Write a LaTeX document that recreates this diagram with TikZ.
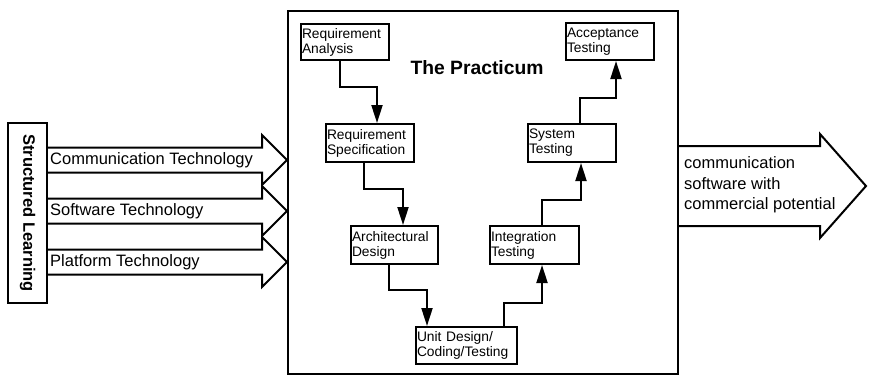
\documentclass[tikz,border=0pt]{standalone}
\usepackage{fontspec}
\setmainfont{Liberation Sans}
\usetikzlibrary{arrows.meta}

\def\bodyh{12.5}  % half height of an input arrow body
\def\headh{25}    % half height of an input arrow head
\newcommand{\stagefont}{\fontsize{13.8}{15}\selectfont}
\newcommand{\labelfont}{\fontsize{16.5}{20.5}\selectfont}

\begin{document}
\begin{tikzpicture}[x=1pt, y=-1pt,
    stage/.style={draw, line width=2pt, anchor=north west, inner xsep=1pt,
      inner ysep=0pt, align=left, font=\stagefont},
    flow/.style={line width=2pt, -{Triangle[length=18pt,width=11pt]}},
    fat/.style={draw, line width=2pt}]
  \useasboundingbox (0,0) rectangle (869,376);

  % Frame of the practicum
  \node[draw, line width=2pt, anchor=north west, inner sep=0pt,
    minimum width=390pt, minimum height=363pt] (frame) at (287,10) {};
  \node[font=\fontsize{19.3}{22}\selectfont\bfseries] (title) at (477,68) {The Practicum};

  % Stages of the V
  \node[stage, text width=86pt, minimum height=36pt] (ra) at (300,23) {Requirement\\Analysis};
  \node[stage, text width=86pt, minimum height=38pt] (rs) at (325,123) {Requirement\\Specification};
  \node[stage, text width=85pt, minimum height=38pt] (ad) at (350,225) {Architectural\\Design};
  \node[stage, text width=99pt, minimum height=37pt] (ud) at (415,326) {Unit Design/\\Coding/Testing};
  \node[stage, text width=87pt, minimum height=38pt] (it) at (489,225) {Integration\\Testing};
  \node[stage, text width=86pt, minimum height=38pt] (st) at (527,123) {System\\Testing};
  \node[stage, text width=86pt, minimum height=37pt] (at) at (565,22) {Acceptance\\Testing};

  % Going down
  \draw[flow] ([xshift=-5pt]ra.south) -- ++(0,26) -| ([xshift=7pt]rs.north);
  \draw[flow] ([xshift=-6pt]rs.south) -- ++(0,26) -| ([xshift=8.5pt]ad.north);
  \draw[flow] ([xshift=-5.5pt]ad.south) -- ++(0,25) -| ([xshift=-39.5pt]ud.north);
  % Going up
  \draw[flow] ([xshift=37.5pt]ud.north) -- ++(0,-23) -| ([xshift=7.5pt]it.south);
  \draw[flow] ([xshift=7.5pt]it.north) -- ++(0,-25) -| ([xshift=9pt]st.south);
  \draw[flow] ([xshift=8pt]st.north) -- ++(0,-25) -| ([xshift=6pt]at.south);

  % Inputs
  \node[draw, line width=2pt, rotate=-90, inner sep=0pt, minimum width=180pt,
    minimum height=39pt, font=\labelfont\bfseries] (sl) at (27.5,213) {Structured Learning};
  \foreach \yc/\name [count=\i] in {
      160/Communication Technology,
      211/Software Technology,
      262/Platform Technology
    } {
      \draw[fat] (47,\yc-\bodyh) -- (262,\yc-\bodyh) -- (262,\yc-\headh)
        -- (287,\yc) -- (262,\yc+\headh) -- (262,\yc+\bodyh) -- (47,\yc+\bodyh);
      \node[anchor=west, inner sep=0pt, font=\labelfont] (tech\i) at (50,\yc) {\name};
    };

  % Output
  \draw[fat] (677,146) -- (820,146) -- (820,134) -- (866,186)
    -- (820,238) -- (820,226) -- (677,226);
  \node[anchor=west, align=left, inner sep=0pt, font=\labelfont] (result) at (684,185)
    {communication\\software with\\commercial potential};
\end{tikzpicture}
\end{document}
